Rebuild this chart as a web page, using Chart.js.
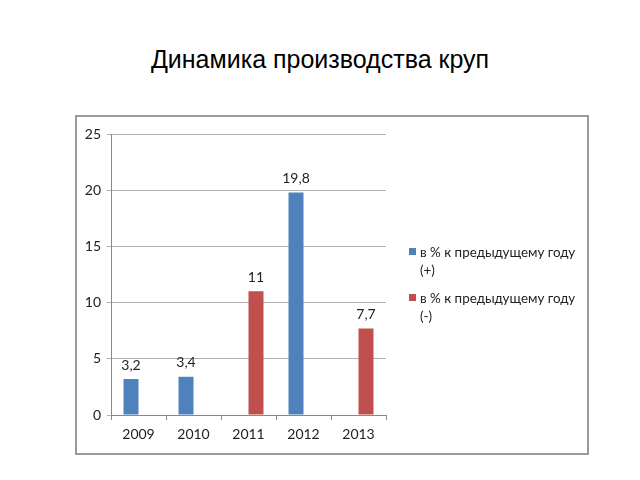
<!DOCTYPE html>
<html>
<head>
<meta charset="utf-8">
<script src="https://cdn.jsdelivr.net/npm/chart.js@4"></script>
<style>
  body { margin: 0; background: #fff; width: 640px; height: 480px; position: relative; font-family: "Liberation Sans", Arial, sans-serif; }
  h1 { position: absolute; left: 0; top: 45px; width: 640px; margin: 0; text-align: center; font-weight: normal; font-size: 25px; color: #000; }
  .box { position: absolute; left: 75px; top: 115px; width: 510px; height: 336px; border: 2px solid #9a9a9a; }
  .box canvas { position: absolute; left: 0; top: 0; }
  .legend { position: absolute; left: 332px; top: 126px; font-family: Lato, "Noto Sans", sans-serif; font-size: 13.4px; color: #222; line-height: 18px; }
  .legend div { position: relative; padding-left: 11px; margin-bottom: 10px; width: 170px; }
  .legend span { position: absolute; left: 0; top: 5px; width: 7px; height: 7px; }
</style>
</head>
<body>
<h1>Динамика производства круп</h1>
<div class="box">
  <canvas id="chart" width="510" height="336"></canvas>
  <div class="legend" id="legend"></div>
</div>
<script>
const years = ['2009', '2010', '2011', '2012', '2013'];
const plusValues = [3.2, 3.4, null, 19.8, null];
const minusValues = [null, null, 11, null, 7.7];
const seriesLabels = ['в % к предыдущему году (+)', 'в % к предыдущему году (-)'];
const seriesColors = ['#4f81bd', '#c0504d'];

const labelFont = '14px Lato, "Noto Sans", sans-serif';

// values above the bars, written with a comma
const valueLabels = {
  id: 'valueLabels',
  afterDatasetsDraw(chart) {
    const ctx = chart.ctx;
    ctx.save();
    ctx.font = labelFont;
    ctx.fillStyle = '#222';
    ctx.textAlign = 'center';
    ctx.textBaseline = 'bottom';
    chart.data.datasets.forEach((ds, i) => {
      chart.getDatasetMeta(i).data.forEach((bar, j) => {
        const v = ds.data[j];
        if (v === null) return;
        ctx.fillText(String(v).replace('.', ','), bar.x, bar.y - 7);
      });
    });
    ctx.restore();
  }
};

new Chart(document.getElementById('chart'), {
  type: 'bar',
  data: {
    labels: years,
    datasets: [
      { label: seriesLabels[0], data: plusValues, backgroundColor: seriesColors[0] },
      { label: seriesLabels[1], data: minusValues, backgroundColor: seriesColors[1] }
    ]
  },
  options: {
    responsive: false,
    animation: false,
    categoryPercentage: 0.545,
    barPercentage: 1,
    layout: { padding: { top: 17, right: 201, left: 0, bottom: 0 } },
    plugins: { legend: { display: false }, tooltip: { enabled: false } },
    scales: {
      x: {
        grid: { drawOnChartArea: false, offset: true, tickLength: 5, color: '#888' },
        border: { color: '#888' },
        ticks: { color: '#222', font: { family: 'Lato, "Noto Sans", sans-serif', size: 14 }, padding: 6 },
        afterFit: (scale) => { scale.height = 38; }
      },
      y: {
        min: 0,
        max: 25,
        ticks: { stepSize: 5, color: '#222', font: { family: 'Lato, "Noto Sans", sans-serif', size: 14 }, padding: 6 },
        grid: { color: '#b0b0b0', tickLength: 4 },
        border: { color: '#888' },
        afterFit: (scale) => { scale.width = 34; }
      }
    }
  },
  plugins: [valueLabels]
});

// legend built from the same series arrays
const legend = document.getElementById('legend');
seriesLabels.forEach((label, i) => {
  const item = document.createElement('div');
  const sw = document.createElement('span');
  sw.style.background = seriesColors[i];
  item.appendChild(sw);
  item.appendChild(document.createTextNode(label));
  legend.appendChild(item);
});
</script>
</body>
</html>
